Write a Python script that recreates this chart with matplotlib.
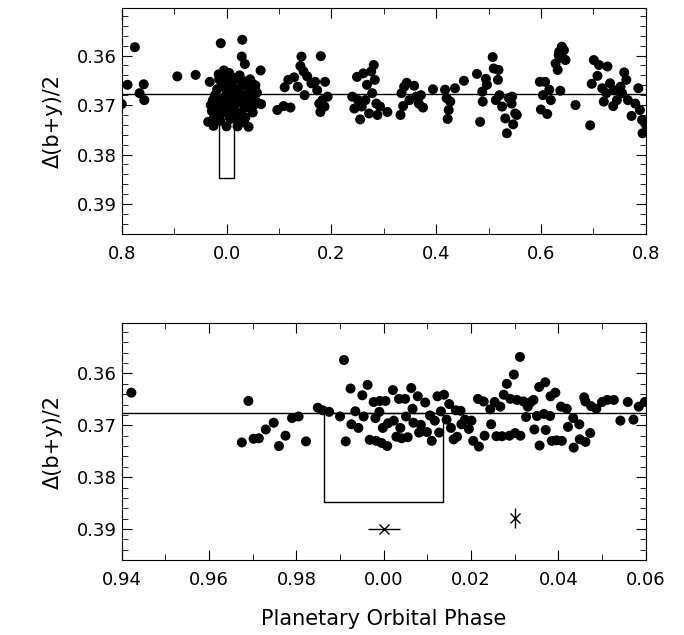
import matplotlib
matplotlib.use('Agg')
import matplotlib.pyplot as plt
from matplotlib.ticker import MultipleLocator, FuncFormatter
from matplotlib.patches import Rectangle

# full-orbit panel (phase shifted so that -0.2 == 0.8)
top_phase = [-0.2, -0.189, -0.175, -0.166, -0.158, -0.157, -0.094, -0.059, -0.032,
             -0.011, 0.030, 0.029, 0.035, 0.065, 0.066, -0.035, -0.025, 0.0, 0.021, 0.042,
             -0.030, -0.028, -0.026, -0.024, -0.022, -0.020, -0.018, -0.016, -0.014, -0.012,
             -0.010, -0.008, -0.006, -0.004, -0.002, 0.000, 0.002, 0.004, 0.006, 0.008,
             0.010, 0.012, 0.014, 0.016, 0.018, 0.020, 0.022, 0.024, 0.026, 0.028,
             0.030, 0.032, 0.034, 0.036, 0.038, 0.040, 0.042, 0.044, 0.046, 0.048,
             0.050, 0.052, 0.054, 0.056, 0.058, -0.015, -0.005, 0.005, 0.015, 0.025,
             0.035, 0.045, 0.055, -0.012, 0.008, 0.018, 0.033, 0.050,
             0.097, 0.109, 0.122, 0.111, 0.118, 0.129, 0.143, 0.141, 0.147, 0.149,
             0.154, 0.162, 0.173, 0.180, 0.179, 0.183, 0.188, 0.193, 0.187, 0.177,
             0.169, 0.136,
             0.240, 0.249, 0.244, 0.255, 0.261, 0.265, 0.268, 0.272, 0.276, 0.281,
             0.283, 0.286, 0.288, 0.293, 0.307, 0.251, 0.258, 0.278,
             0.332, 0.337, 0.334, 0.339, 0.344, 0.349, 0.358, 0.362, 0.367, 0.375, 0.371,
             0.394, 0.417, 0.420, 0.424, 0.422, 0.427, 0.436, 0.453,
             0.478, 0.484, 0.488, 0.495, 0.497, 0.489, 0.508, 0.510, 0.519, 0.518,
             0.514, 0.521, 0.526, 0.532, 0.535, 0.539, 0.544, 0.547, 0.551, 0.545, 0.554,
             0.598, 0.608, 0.600, 0.612, 0.604, 0.616, 0.619, 0.628, 0.632, 0.635,
             0.640, 0.644, 0.647, 0.637, 0.634, 0.642, 0.666,
             0.694, 0.701, 0.697, 0.708, 0.711, 0.717, 0.720, 0.727, 0.732, 0.738,
             0.739, 0.745, 0.752, 0.759, 0.763, 0.766, 0.773, 0.780, 0.786, 0.789,
             0.793, 0.794, 0.800, 0.755, 0.725]
top_mag = [0.3698, 0.3659, 0.3583, 0.3676, 0.3658, 0.3690, 0.3642, 0.3639, 0.3653,
           0.3575, 0.3568, 0.3602, 0.3617, 0.3630, 0.3698, 0.3734, 0.3742, 0.3743, 0.3743, 0.3744,
           0.3700, 0.3712, 0.3690, 0.3725, 0.3680, 0.3705, 0.3668, 0.3690, 0.3648, 0.3720,
           0.3662, 0.3700, 0.3685, 0.3655, 0.3710, 0.3672, 0.3640, 0.3695, 0.3725, 0.3660,
           0.3682, 0.3712, 0.3650, 0.3700, 0.3668, 0.3730, 0.3645, 0.3690, 0.3675, 0.3715,
           0.3660, 0.3698, 0.3652, 0.3725, 0.3680, 0.3660, 0.3705, 0.3670, 0.3690, 0.3655,
           0.3680, 0.3700, 0.3665, 0.3692, 0.3675, 0.3638, 0.3630, 0.3635, 0.3645, 0.3640,
           0.3655, 0.3648, 0.3660, 0.3732, 0.3728, 0.3720, 0.3735, 0.3715,
           0.3710, 0.3702, 0.3705, 0.3664, 0.3649, 0.3644, 0.3602, 0.3621, 0.3632, 0.3680,
           0.3642, 0.3656, 0.3670, 0.3601, 0.3714, 0.3690, 0.3653, 0.3683, 0.3703, 0.3697,
           0.3653, 0.3663,
           0.3683, 0.3643, 0.3707, 0.3729, 0.3636, 0.3690, 0.3659, 0.3717, 0.3632, 0.3619,
           0.3649, 0.3697, 0.3720, 0.3703, 0.3714, 0.3690, 0.3703, 0.3676,
           0.3720, 0.3702, 0.3676, 0.3663, 0.3655, 0.3690, 0.3661, 0.3683, 0.3697, 0.3705, 0.3680,
           0.3668, 0.3669, 0.3686, 0.3710, 0.3728, 0.3693, 0.3666, 0.3651,
           0.3637, 0.3734, 0.3673, 0.3647, 0.3659, 0.3693, 0.3603, 0.3626, 0.3629, 0.3649,
           0.3690, 0.3680, 0.3703, 0.3727, 0.3757, 0.3686, 0.3697, 0.3739, 0.3717, 0.3683, 0.3720,
           0.3653, 0.3653, 0.3709, 0.3718, 0.3680, 0.3669, 0.3690, 0.3616, 0.3629, 0.3592,
           0.3582, 0.3589, 0.3609, 0.3671, 0.3599, 0.3605, 0.3700,
           0.3741, 0.3609, 0.3657, 0.3641, 0.3619, 0.3666, 0.3693, 0.3622, 0.3656, 0.3702,
           0.3670, 0.3690, 0.3663, 0.3634, 0.3649, 0.3690, 0.3722, 0.3697, 0.3666, 0.3710,
           0.3730, 0.3757, 0.3739, 0.3676, 0.3676]

# zoom around transit
bot_phase = [-0.0578, -0.0325, -0.0310, -0.0298, -0.0286, -0.0270, -0.0252, -0.0240, -0.0225,
             -0.0210, -0.0195, -0.0178, -0.0151, -0.0140, -0.0125, -0.0100, -0.0091, -0.0087,
             -0.0076, -0.0074, -0.0065, -0.0058, -0.0049, -0.0046, -0.0037, -0.0032, -0.0023,
             -0.0019, -0.0017, -0.0010, -0.0009, -0.0005, -0.0002, 0.0004, 0.0008, 0.0010,
             0.0021, 0.0023, 0.0029, 0.0035, 0.0038, 0.0041, 0.0049, 0.0051, 0.0055, 0.0063,
             0.0066, 0.0068, 0.0078, 0.0081, 0.0085, 0.0095, 0.0099, 0.0106, 0.0110, 0.0117,
             0.0123, 0.0127, 0.0131, 0.0138, 0.0144, 0.0150, 0.0154, 0.0160, 0.0165, 0.0168,
             0.0176, 0.0178, 0.0186, 0.0195, 0.0201, 0.0205, 0.0216, 0.0218, 0.0229, 0.0231,
             0.0244, 0.0246, 0.0254, 0.0258, 0.0267, 0.0271, 0.0275, 0.0282, 0.0288, 0.0290,
             0.0298, 0.0301, 0.0305, 0.0312, 0.0313, 0.0320, 0.0326, 0.0330, 0.0337, 0.0343,
             0.0345, 0.0351, 0.0356, 0.0357, 0.0367, 0.0370, 0.0371, 0.0381, 0.0382, 0.0385,
             0.0393, 0.0396, 0.0406, 0.0408, 0.0419, 0.0422, 0.0434, 0.0435, 0.0448, 0.0449,
             0.0459, 0.0462, 0.0462, 0.0473, 0.0475, 0.0487, 0.0500, 0.0512, 0.0527, 0.0542,
             0.0559, 0.0572, 0.0584, 0.0598]
bot_mag = [0.3637, 0.3733, 0.3653, 0.3726, 0.3725, 0.3708, 0.3695, 0.3740, 0.3720,
           0.3686, 0.3683, 0.3731, 0.3666, 0.3671, 0.3674, 0.3683, 0.3574, 0.3731,
           0.3629, 0.3698, 0.3673, 0.3705, 0.3642, 0.3683, 0.3622, 0.3728, 0.3655,
           0.3686, 0.3730, 0.3674, 0.3653, 0.3734, 0.3705, 0.3653, 0.3740, 0.3696,
           0.3632, 0.3691, 0.3722, 0.3649, 0.3705, 0.3725, 0.3649, 0.3683, 0.3723, 0.3628,
           0.3668, 0.3695, 0.3644, 0.3714, 0.3699, 0.3656, 0.3713, 0.3681, 0.3730, 0.3691,
           0.3644, 0.3714, 0.3673, 0.3641, 0.3689, 0.3659, 0.3705, 0.3727, 0.3671, 0.3722,
           0.3672, 0.3698, 0.3689, 0.3707, 0.3691, 0.3730, 0.3649, 0.3741, 0.3654, 0.3720,
           0.3669, 0.3698, 0.3655, 0.3721, 0.3664, 0.3721, 0.3641, 0.3620, 0.3720, 0.3649,
           0.3602, 0.3715, 0.3651, 0.3568, 0.3720, 0.3654, 0.3684, 0.3664, 0.3655, 0.3651,
           0.3708, 0.3682, 0.3626, 0.3739, 0.3678, 0.3617, 0.3709, 0.3682, 0.3644, 0.3730,
           0.3637, 0.3729, 0.3664, 0.3730, 0.3668, 0.3703, 0.3686, 0.3743, 0.3698, 0.3727,
           0.3646, 0.3732, 0.3654, 0.3715, 0.3663, 0.3668, 0.3655, 0.3651, 0.3651, 0.3691,
           0.3655, 0.3689, 0.3664, 0.3655]

mean_level = 0.3677
transit_depth = 0.3847
transit_half_width = 0.0136
# error-bar symbols in lower panel
err_x = [0.0, 0.030]
err_y = [0.390, 0.3879]
err_dx = [0.0037, 0.0]
err_dy = [0.0, 0.0019]

plt.rcParams['font.family'] = 'DejaVu Sans'
plt.rcParams['font.size'] = 13

fig = plt.figure(figsize=(6.84, 6.35), dpi=100)
ax1 = fig.add_axes([0.178, 0.632, 0.766, 0.356])
ax2 = fig.add_axes([0.178, 0.118, 0.766, 0.373])


def style(ax, xmaj, xmin, fmt):
    ax.set_ylim(0.3960, 0.3503)
    ax.yaxis.set_major_locator(MultipleLocator(0.01))
    ax.yaxis.set_minor_locator(MultipleLocator(0.002))
    ax.xaxis.set_major_locator(MultipleLocator(xmaj))
    ax.xaxis.set_minor_locator(MultipleLocator(xmin))
    ax.xaxis.set_major_formatter(FuncFormatter(fmt))
    ax.yaxis.set_major_formatter(FuncFormatter(lambda v, p: f"{v:.2f}"))
    ax.tick_params(which='both', direction='in', top=True, right=True)
    ax.tick_params(which='major', length=7)
    ax.tick_params(which='minor', length=4)
    ax.tick_params(axis='x', pad=8)
    ax.set_ylabel('Δ(b+y)/2', fontsize=15, labelpad=10)


ax1.scatter(top_phase, top_mag, s=52, c='black', edgecolors='none', zorder=3)
ax1.axhline(mean_level, color='black', lw=1)
ax1.add_patch(Rectangle((-transit_half_width, mean_level), 2 * transit_half_width,
                        transit_depth - mean_level, fill=False, lw=1, ec='black'))
ax1.set_xlim(-0.2, 0.8)
style(ax1, 0.2, 0.1, lambda v, p: f"{v % 1 + 0.0:.1f}")

ax2.scatter(bot_phase, bot_mag, s=52, c='black', edgecolors='none', zorder=3)
ax2.axhline(mean_level, color='black', lw=1)
ax2.add_patch(Rectangle((-transit_half_width, mean_level), 2 * transit_half_width,
                        transit_depth - mean_level, fill=False, lw=1, ec='black'))
ax2.errorbar(err_x, err_y, xerr=err_dx, yerr=err_dy, fmt='x', color='black',
             ms=7, mew=1, elinewidth=1, capsize=0)
ax2.set_xlim(-0.06, 0.06)
style(ax2, 0.02, 0.01, lambda v, p: f"{abs(round(v, 4)) % 1 if v >= -1e-9 else v % 1:.2f}")
ax2.set_xlabel('Planetary Orbital Phase', fontsize=15, labelpad=14)

fig.savefig('out.png', dpi=100)
